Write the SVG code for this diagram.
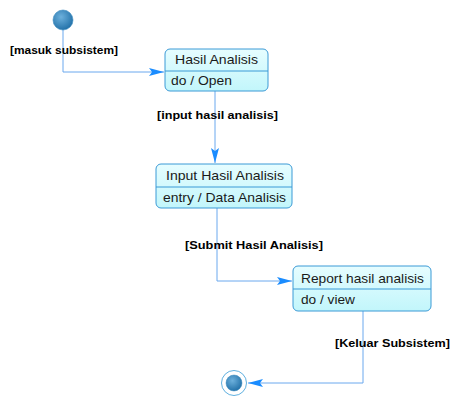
<svg xmlns="http://www.w3.org/2000/svg" width="452" height="398" viewBox="0 0 452 398">
<style>
.node rect{fill:url(#ng);stroke:#3b9ad6;stroke-width:1}
.node line{stroke:#3b9ad6;stroke-width:1}
.t{font-family:"Liberation Sans",Arial,sans-serif;font-size:13.5px;fill:#1a1a1a}
.lbl{font-family:"Liberation Sans",Arial,sans-serif;font-size:11px;font-weight:bold;fill:#000}
.c{fill:none;stroke:#6aa8ee;stroke-width:1}
</style>
<defs>
<linearGradient id="ng" x1="0" y1="0" x2="0" y2="1">
<stop offset="0" stop-color="#e6fdff"/>
<stop offset="1" stop-color="#c2f6fb"/>
</linearGradient>
<radialGradient id="dot" cx="0.4" cy="0.35" r="0.7">
<stop offset="0" stop-color="#6cb0dc"/>
<stop offset="1" stop-color="#1f6ea6"/>
</radialGradient>
<marker id="ah" markerWidth="16" markerHeight="10" refX="15" refY="5" orient="auto" markerUnits="userSpaceOnUse">
<path d="M0,1 L15,5 L0,9 L3,5 Z" fill="#1a8cff"/>
</marker>
</defs>
<g id="connectors">
<path class="c" d="M63,30 V72 H164" marker-end="url(#ah)"/>
<path class="c" d="M215,91 V163" marker-end="url(#ah)"/>
<path class="c" d="M217,208 V281 H292" marker-end="url(#ah)"/>
<path class="c" d="M363,311 V383 H248" marker-end="url(#ah)"/>
<text class="lbl" x="10" y="54" textLength="108" lengthAdjust="spacingAndGlyphs">[masuk subsistem]</text>
<text class="lbl" x="157" y="119" textLength="121" lengthAdjust="spacingAndGlyphs">[input hasil analisis]</text>
<text class="lbl" x="185" y="249" textLength="138" lengthAdjust="spacingAndGlyphs">[Submit Hasil Analisis]</text>
<text class="lbl" x="335" y="347" textLength="115" lengthAdjust="spacingAndGlyphs">[Keluar Subsistem]</text>
</g>
<g id="initial">
<circle cx="63" cy="20" r="10" fill="url(#dot)" stroke="#3d8cc0" stroke-width="0.6"/>
</g>
<g id="n1" class="node">
<rect x="165" y="49" width="103" height="42" rx="5"/>
<line x1="165" y1="71" x2="268" y2="71"/>
<text class="t" x="175" y="64" textLength="83" lengthAdjust="spacingAndGlyphs">Hasil Analisis</text>
<text class="t" x="171" y="85" textLength="61" lengthAdjust="spacingAndGlyphs">do / Open</text>
</g>
<g id="n2" class="node">
<rect x="156" y="164" width="136" height="44" rx="5"/>
<line x1="156" y1="187" x2="292" y2="187"/>
<text class="t" x="166" y="180" textLength="118" lengthAdjust="spacingAndGlyphs">Input Hasil Analisis</text>
<text class="t" x="163" y="202" textLength="123" lengthAdjust="spacingAndGlyphs">entry / Data Analisis</text>
</g>
<g id="n3" class="node">
<rect x="293" y="266" width="138" height="45" rx="5"/>
<line x1="293" y1="289" x2="431" y2="289"/>
<text class="t" x="301" y="283" textLength="123" lengthAdjust="spacingAndGlyphs">Report hasil analisis</text>
<text class="t" x="301" y="304" textLength="54" lengthAdjust="spacingAndGlyphs">do / view</text>
</g>
<g id="final">
<circle cx="234" cy="383" r="12.5" fill="#fff" stroke="#5fb0e0" stroke-width="1"/>
<circle cx="234" cy="383" r="8" fill="url(#dot)" stroke="#3d8cc0" stroke-width="0.5"/>
</g>
</svg>
